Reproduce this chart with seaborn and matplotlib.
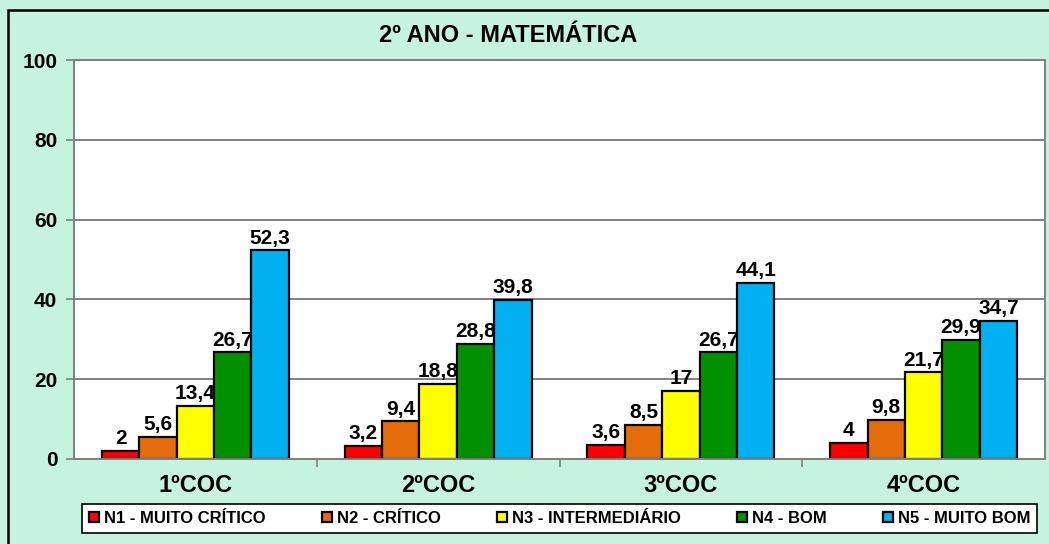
import numpy as np
import pandas as pd
import matplotlib
matplotlib.use('Agg')
import matplotlib.pyplot as plt
from matplotlib.patches import Rectangle
import seaborn as sns

# --- Data ---
periodos = ['1ºCOC', '2ºCOC', '3ºCOC', '4ºCOC']
niveis = ['N1 - MUITO CRÍTICO', 'N2 - CRÍTICO', 'N3 - INTERMEDIÁRIO', 'N4 - BOM', 'N5 - MUITO BOM']
n1 = [2, 3.2, 3.6, 4]
n2 = [5.6, 9.4, 8.5, 9.8]
n3 = [13.4, 18.8, 17, 21.7]
n4 = [26.7, 28.8, 26.7, 29.9]
n5 = [52.3, 39.8, 44.1, 34.7]
cores = ['#FF0000', '#E46C0A', '#FFFF00', '#009000', '#00B0F0']
titulo = '2º ANO - MATEMÁTICA'

df = pd.DataFrame({
    'coc': periodos * 5,
    'nivel': np.repeat(niveis, 4),
    'valor': n1 + n2 + n3 + n4 + n5,
})

sns.set_style('white')
plt.rcParams['font.family'] = ['Liberation Sans', 'DejaVu Sans']
plt.rcParams['font.weight'] = 'bold'
plt.rcParams['text.color'] = 'black'
plt.rcParams['xtick.color'] = 'black'
plt.rcParams['ytick.color'] = 'black'

W, H = 1049, 544
fig = plt.figure(figsize=(W / 100, H / 100), dpi=100, facecolor='#C6F2E0')
ax = fig.add_axes([74 / W, (H - 459) / H, (1045 - 74) / W, (459 - 60) / H])
ax.set_facecolor('white')

sns.barplot(data=df, x='coc', y='valor', hue='nivel', order=periodos, hue_order=niveis,
            palette=cores, width=0.77, saturation=1, edgecolor='black', linewidth=1.6,
            errorbar=None, ax=ax)

# value labels, Brazilian decimal comma
def fmt(v):
    return str(int(v)) if float(v).is_integer() else f'{v:.1f}'.replace('.', ',')

for cont in ax.containers:
    ax.bar_label(cont, labels=[fmt(b.get_height()) for b in cont], padding=2,
                 fontsize=15, fontweight='bold', color='black')

ax.set_ylim(0, 100)
ax.set_xlim(-0.5, 3.5)
ax.set_yticks(range(0, 101, 20))
ax.yaxis.grid(True, color='#7f7f7f', linewidth=1.4)
ax.set_axisbelow(True)
for s in ax.spines.values():
    s.set_color('#7f7f7f')
    s.set_linewidth(1.4)
ax.tick_params(axis='y', which='major', direction='out', length=6, width=1.2,
               color='#7f7f7f', labelcolor='black', labelsize=15, pad=6, left=True)
ax.tick_params(axis='x', which='major', length=0, labelsize=17, labelcolor='black', pad=11)
ax.set_xticks([0.5, 1.5, 2.5], minor=True)
ax.tick_params(axis='x', which='minor', direction='out', length=6, width=1.2,
               color='#7f7f7f', bottom=True)
for t in ax.get_xticklabels() + ax.get_yticklabels():
    t.set_fontweight('bold')
ax.set_xlabel('')
ax.set_ylabel('')

# title
fig.text(508 / W, 1 - 35 / H, titulo, ha='center', va='center', fontsize=17,
         fontweight='bold', color='black')

# legend
handles, labels = ax.get_legend_handles_labels()
ax.get_legend().remove()
leg = fig.legend(handles, labels, loc='lower left', ncol=5, mode='expand',
                 bbox_to_anchor=(74 / W, (H - 541) / H, (1045 - 74) / W, 30 / H),
                 fancybox=False, edgecolor='black', facecolor='white', framealpha=1,
                 handlelength=0.6, handleheight=0.6, handletextpad=0.3,
                 borderpad=0.4, prop={'size': 12, 'weight': 'bold'})
leg.get_frame().set_linewidth(1.2)

# outer chart frame
fig.patches.append(Rectangle((8 / W, -0.05), 1.2, 1.05 - 10 / H, transform=fig.transFigure,
                             fill=False, edgecolor='black', linewidth=1.8, clip_on=False))

fig.savefig('out.png', dpi=100, facecolor=fig.get_facecolor())
